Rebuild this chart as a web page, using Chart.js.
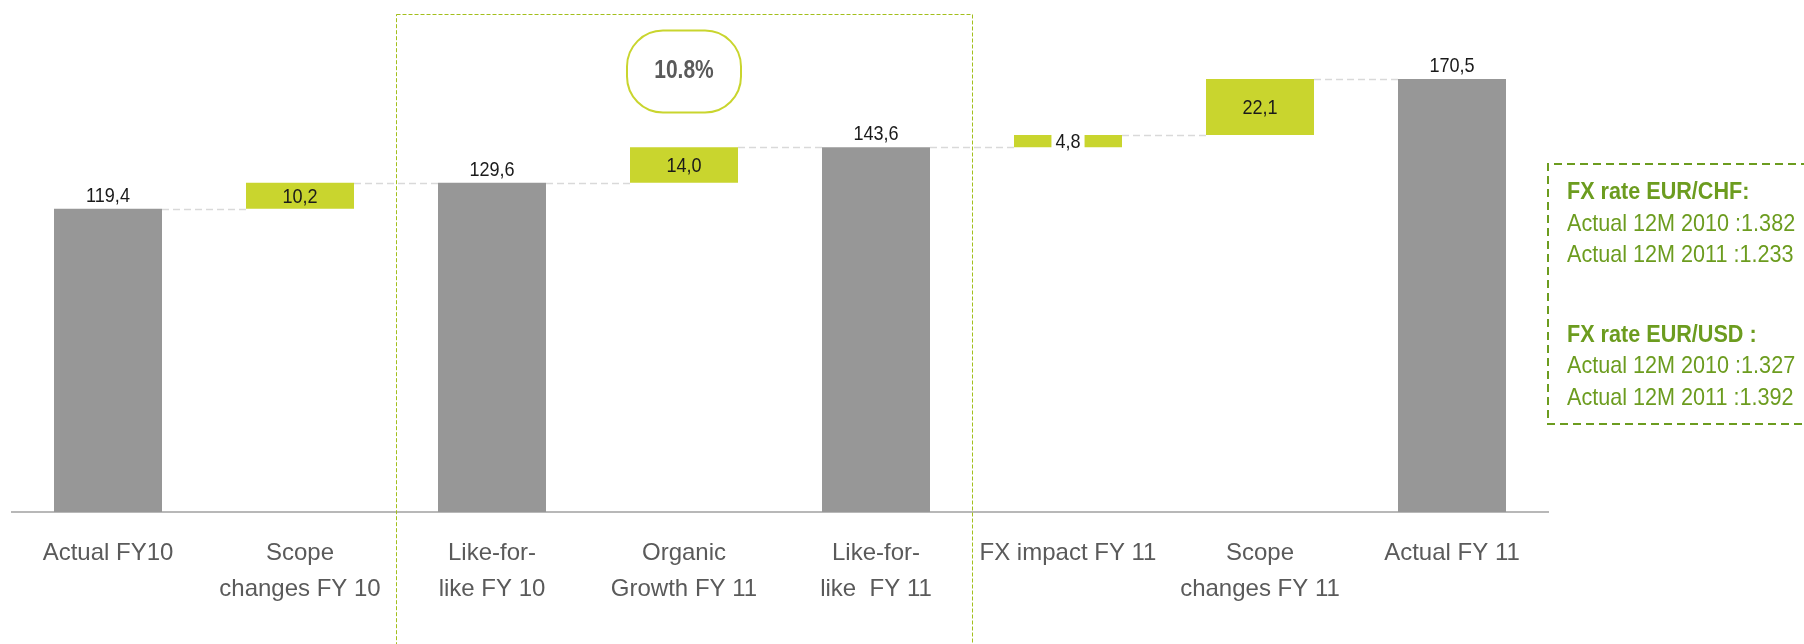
<!DOCTYPE html>
<html>
<head>
<meta charset="utf-8">
<script src="https://cdn.jsdelivr.net/npm/chart.js@4/dist/chart.umd.min.js"></script>
<style>
  html, body { margin: 0; padding: 0; background: #fff; overflow: hidden; }
  #bridgeChart { display: block; }
</style>
</head>
<body>
<canvas id="bridgeChart" width="1804" height="644"></canvas>
<script>
// === DADOS ===
const categories = [
  "Actual FY10",
  ["Scope", "changes FY 10"],
  ["Like-for-", "like FY 10"],
  ["Organic", "Growth FY 11"],
  ["Like-for-", "like  FY 11"],
  "FX impact FY 11",
  ["Scope", "changes FY 11"],
  "Actual FY 11",
];
const barValues = [119.4, 10.2, 129.6, 14.0, 143.6, 4.8, 22.1, 170.5];
const isTotal = [true, false, true, false, true, false, false, true];
const valueLabels = ["119,4", "10,2", "129,6", "14,0", "143,6", "4,8", "22,1", "170,5"];
const growthLabel = "10.8%";
const fxLines = [
  { text: "FX rate EUR/CHF:", bold: true },
  { text: "Actual 12M 2010 :1.382", bold: false },
  { text: "Actual 12M 2011 :1.233", bold: false },
  { text: "", bold: false },
  { text: "FX rate EUR/USD :", bold: true },
  { text: "Actual 12M 2010 :1.327", bold: false },
  { text: "Actual 12M 2011 :1.392", bold: false },
];

const GRAY = "#979797";
const LIME = "#c9d52e";
const DARK_GREEN = "#6c9c1f";
const FONT = "'Liberation Sans', Arial, sans-serif";

// === BARRAS FLUTUANTES ===
let running = 0;
const ranges = barValues.map((v, i) => {
  if (isTotal[i]) {
    running = v;
    return [0, v];
  }
  const r = [running, running + v];
  running += v;
  return r;
});
const runningAfter = ranges.map((r) => r[1]);

// texto comprimido na horizontal (fonte estreita)
function narrowText(ctx, text, x, y, sx) {
  ctx.save();
  ctx.translate(x, y);
  ctx.scale(sx, 1);
  ctx.fillText(text, 0, 0);
  ctx.restore();
}

// === PLUGIN: conectores, rótulos, caixas ===
const bridgeDecor = {
  id: "bridgeDecor",
  beforeDatasetsDraw(chart) {
    const { ctx, scales: { y } } = chart;
    const meta = chart.getDatasetMeta(0);

    // linhas tracejadas entre barras
    ctx.save();
    ctx.strokeStyle = "#d9d9d9";
    ctx.lineWidth = 1.5;
    ctx.setLineDash([7, 4]);
    for (let i = 0; i < meta.data.length - 1; i++) {
      const a = meta.data[i];
      const b = meta.data[i + 1];
      const yy = Math.round(y.getPixelForValue(runningAfter[i])) + 0.5;
      ctx.beginPath();
      ctx.moveTo(a.x + a.width / 2, yy);
      ctx.lineTo(b.x - b.width / 2, yy);
      ctx.stroke();
    }
    ctx.restore();
  },
  afterDatasetsDraw(chart) {
    const { ctx, scales: { x, y } } = chart;
    const meta = chart.getDatasetMeta(0);
    const sx = 0.86;

    // rótulos de valores
    ctx.save();
    ctx.font = "21px " + FONT;
    ctx.fillStyle = "#1a1a1a";
    ctx.textAlign = "center";
    meta.data.forEach((bar, i) => {
      if (isTotal[i]) {
        ctx.textBaseline = "alphabetic";
        narrowText(ctx, valueLabels[i], bar.x, bar.y - 7, sx);
      } else {
        const mid = (bar.y + bar.base) / 2;
        if (Math.abs(bar.base - bar.y) < 20) {
          const w = ctx.measureText(valueLabels[i]).width * sx + 8;
          ctx.fillStyle = "#fff";
          ctx.fillRect(bar.x - w / 2, bar.y - 1, w, bar.base - bar.y + 2);
          ctx.fillStyle = "#1a1a1a";
        }
        ctx.textBaseline = "middle";
        narrowText(ctx, valueLabels[i], bar.x, mid + 1, sx);
      }
    });
    ctx.restore();

    // caixa pontilhada (like-for-like)
    const left = (x.getPixelForValue(1) + x.getPixelForValue(2)) / 2;
    const right = (x.getPixelForValue(4) + x.getPixelForValue(5)) / 2;
    const top = y.getPixelForValue(196);
    ctx.save();
    ctx.strokeStyle = "#a3bf1c";
    ctx.lineWidth = 1;
    ctx.setLineDash([4, 2]);
    ctx.strokeRect(Math.round(left) + 0.5, Math.round(top) + 0.5, right - left, chart.height - top + 10);
    ctx.restore();

    // pílula de crescimento
    const cx = x.getPixelForValue(3);
    const cy = y.getPixelForValue(173.4);
    const pw = 114, ph = 82;
    ctx.save();
    ctx.strokeStyle = LIME;
    ctx.lineWidth = 2;
    ctx.beginPath();
    ctx.roundRect(cx - pw / 2, cy - ph / 2, pw, ph, 36);
    ctx.stroke();
    ctx.fillStyle = "#5a5a5a";
    ctx.font = "bold 25px " + FONT;
    ctx.textAlign = "center";
    ctx.textBaseline = "middle";
    narrowText(ctx, growthLabel, cx, cy, 0.84);
    ctx.restore();

    // caixa de câmbio
    const bx = x.right;
    const byTop = 164;
    const byBot = 424;
    ctx.save();
    ctx.strokeStyle = DARK_GREEN;
    ctx.lineWidth = 2;
    ctx.setLineDash([8, 5]);
    ctx.beginPath();
    ctx.moveTo(chart.width + 5, byTop);
    ctx.lineTo(bx, byTop);
    ctx.lineTo(bx, byBot);
    ctx.lineTo(chart.width + 5, byBot);
    ctx.stroke();
    ctx.fillStyle = DARK_GREEN;
    ctx.textAlign = "left";
    ctx.textBaseline = "alphabetic";
    const baselines = [199, 231, 262, 0, 342, 373, 405];
    fxLines.forEach((ln, i) => {
      if (!ln.text) return;
      ctx.font = (ln.bold ? "bold " : "") + "24px " + FONT;
      narrowText(ctx, ln.text, bx + 19, baselines[i], 0.9);
    });
    ctx.restore();
  },
};

// === GRÁFICO ===
new Chart(document.getElementById("bridgeChart"), {
  type: "bar",
  data: {
    labels: categories,
    datasets: [
      {
        data: ranges,
        backgroundColor: isTotal.map((t) => (t ? GRAY : LIME)),
        borderWidth: 0,
        categoryPercentage: 1,
        barPercentage: 0.5625,
      },
    ],
  },
  options: {
    responsive: false,
    animation: false,
    events: [],
    layout: { padding: { top: 4, left: 12, right: 256, bottom: 0 } },
    plugins: {
      legend: { display: false },
      title: { display: false },
      tooltip: { enabled: false },
    },
    scales: {
      x: {
        grid: { display: true, color: "transparent", drawTicks: false },
        border: { display: true, color: "#b8b8b8", width: 2 },
        ticks: {
          color: "#5a5a5a",
          padding: 23,
          maxRotation: 0,
          autoSkip: false,
          font: { family: FONT, size: 24, lineHeight: 1.5 },
        },
        afterFit: (scale) => {
          scale.height = 132;
        },
      },
      y: {
        display: false,
        min: 0,
        max: 200,
      },
    },
  },
  plugins: [bridgeDecor],
});
</script>
</body>
</html>
